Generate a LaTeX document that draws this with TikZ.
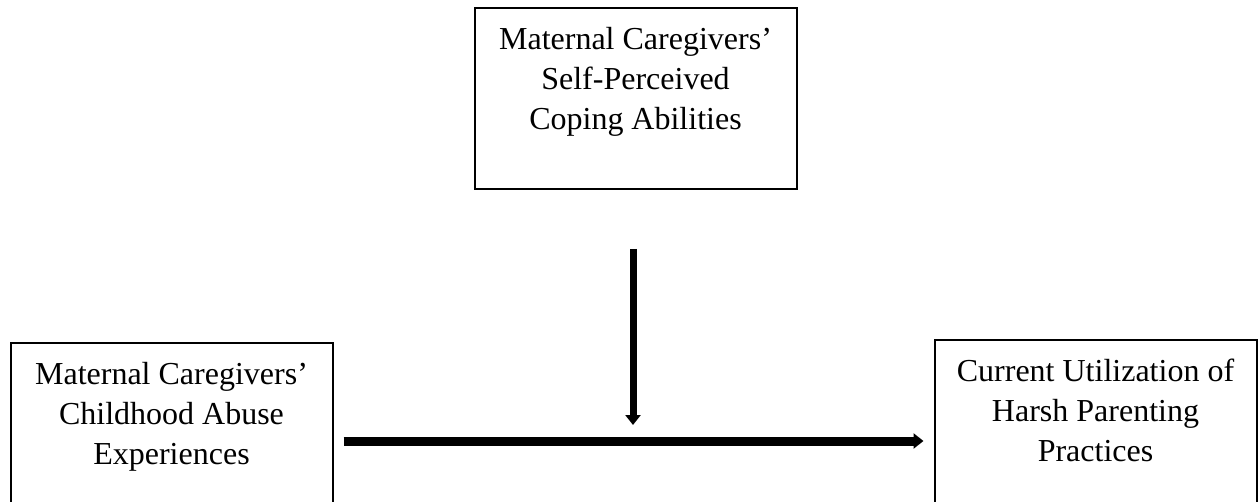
\documentclass[tikz,border=0pt]{standalone}
\usepackage{fontspec}
\setmainfont{Liberation Serif}
\usetikzlibrary{arrows.meta,positioning,calc}

\begin{document}
\begin{tikzpicture}[x=0.5pt, y=-0.5pt,
    box/.style={draw, line width=1pt, minimum width=161pt, minimum height=90.5pt,
        inner sep=0pt, anchor=north, align=center, font=\fontsize{16}{20}\selectfont},
    flow/.style={line width=#1, -{Triangle[length=5pt, width=7.5pt]}}]
    \useasboundingbox (0,0) rectangle (1258,502);

    % Moderator
    \node[box] (cope) at (635.5, 7) {Maternal Caregivers’\\Self-Perceived\\Coping Abilities\\~};

    % Predictor and outcome
    \node[box] (abuse) at (171.5, 342) {Maternal Caregivers’\\Childhood Abuse\\Experiences\\~};
    \node[box] (harsh) at (1095.5, 339) {Current Utilization of\\Harsh Parenting\\Practices\\~};

    % Main path
    \coordinate (mid) at (633, 441);
    \draw[flow=4.5pt] ($(abuse.east |- mid)+(10,0)$) -- ($(harsh.west |- mid)+(-10,0)$);

    % Moderation arrow
    \draw[flow=3.5pt] ($(mid |- cope.south)+(0,59)$) -- ($(mid)+(0,-16)$);
\end{tikzpicture}
\end{document}
